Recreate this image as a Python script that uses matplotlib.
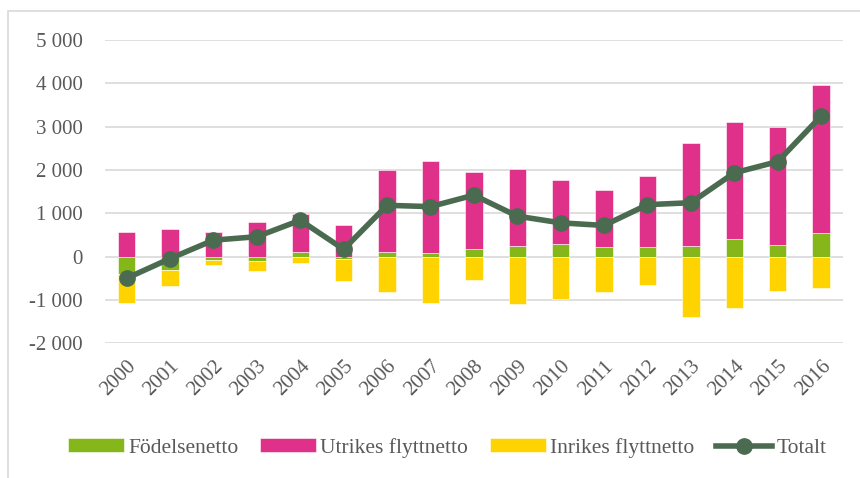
import numpy as np
import matplotlib
matplotlib.use("Agg")
import matplotlib.pyplot as plt
from matplotlib.patches import Rectangle
from matplotlib.ticker import FuncFormatter

plt.rcParams["font.family"] = ["Liberation Serif", "DejaVu Serif"]

years = [str(y) for y in range(2000, 2017)]
fodelsenetto = [-400, -320, -80, -110, 100, -50, 115, 95, 180, 240, 300, 215, 215, 245, 410, 270, 545]
utrikes = [570, 645, 580, 800, 880, 740, 1885, 2120, 1780, 1780, 1470, 1325, 1640, 2390, 2710, 2730, 3415]
inrikes = [-670, -370, -120, -230, -140, -520, -815, -1060, -540, -1085, -990, -820, -655, -1390, -1185, -805, -715]
totalt = [-500, -45, 380, 460, 840, 170, 1185, 1155, 1420, 935, 780, 720, 1200, 1245, 1935, 2195, 3245]

series = [
    ("Födelsenetto", fodelsenetto, "#85b71b"),
    ("Utrikes flyttnetto", utrikes, "#e0318a"),
    ("Inrikes flyttnetto", inrikes, "#ffd300"),
]
GREY = "#595959"

fig = plt.figure(figsize=(8.6, 4.78), dpi=100)
ax = fig.add_axes([0.122, 0.282, 0.858, 0.634])

# Excel-style stacking: positives up, negatives down
x = np.arange(len(years))
pos = np.zeros(len(years))
neg = np.zeros(len(years))
handles = []
for name, vals, col in series:
    v = np.array(vals, dtype=float)
    bottom = np.where(v >= 0, pos, neg)
    h = ax.bar(x, v, width=0.4, bottom=bottom, color=col, edgecolor="white",
               linewidth=0.4, label=name, zorder=2)
    handles.append(h)
    pos += np.where(v >= 0, v, 0)
    neg += np.where(v < 0, v, 0)

ln, = ax.plot(x, totalt, color="#4a6b50", lw=4, marker="o", ms=11,
              label="Totalt", zorder=3)
handles.append(ln)

ax.set_xlim(-0.5, len(years) - 0.5)
ax.set_ylim(-2000, 5000)
ax.set_yticks(range(-2000, 5001, 1000))
ax.yaxis.set_major_formatter(FuncFormatter(lambda v, p: f"{int(v):,}".replace(",", " ")))
ax.grid(axis="y", color="#d9d9d9", lw=1.2, zorder=0)
ax.set_axisbelow(True)
for s in ax.spines.values():
    s.set_visible(False)
ax.tick_params(length=0, labelsize=15, labelcolor=GREY, pad=16)
ax.tick_params(axis="x", pad=10)
ax.set_xticks(x)
ax.set_xticklabels(years, rotation=45, ha="right", va="top", rotation_mode="anchor")

ax.legend(handles=handles, loc="center", bbox_to_anchor=(0.52, 0.063),
          bbox_transform=fig.transFigure, ncol=4, frameon=False, fontsize=15.5,
          labelcolor=GREY, handlelength=2.6, handleheight=0.6,
          handletextpad=0.2, columnspacing=1.0)

# chart frame (only top and left edges visible in the crop)
fig.add_artist(Rectangle((8 / 860, -0.1), 1.2, 1 - 11 / 478 + 0.1,
                         transform=fig.transFigure, fill=False,
                         edgecolor="#d9d9d9", lw=1.2))

fig.savefig("out.png", dpi=100)
